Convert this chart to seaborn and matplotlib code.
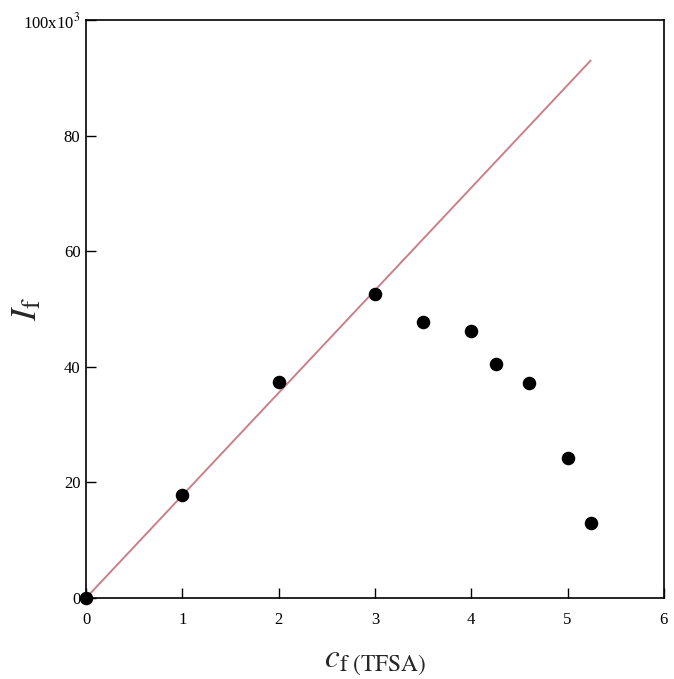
import matplotlib
matplotlib.use("Agg")
import matplotlib.pyplot as plt
import seaborn as sns
import numpy as np
import pandas as pd
from matplotlib.ticker import FixedLocator

# Measured fluorescence intensity vs. TFSA concentration
conc = [0.0, 1.0, 2.0, 3.0, 3.5, 4.0, 4.26, 4.6, 5.0, 5.24]
intensity = [0.0, 17.8, 37.4, 52.6, 47.8, 46.2, 40.5, 37.2, 24.3, 12.9]

# Linear fit through the low-concentration region
fit_x = [0.0, 5.24]
fit_y = [0.0, 93.0]

x_ticks = [0, 1, 2, 3, 4, 5, 6]
y_ticks = [0, 20, 40, 60, 80, 100]
y_tick_labels = ["0", "20", "40", "60", "80", "100x10$^{3}$"]

sns.set_theme(style="white")
plt.rcParams["font.family"] = ["Liberation Serif", "DejaVu Serif"]
plt.rcParams["mathtext.fontset"] = "stix"

fig = plt.figure(figsize=(6.74, 6.79), dpi=100)
ax = fig.add_axes([0.1276, 0.1193, 0.8574, 0.8512])

df = pd.DataFrame({"c": conc, "I": intensity})
fit = pd.DataFrame({"c": fit_x, "I": fit_y})

sns.lineplot(data=fit, x="c", y="I", ax=ax, color="#c9808a", linewidth=1.4, zorder=2)
sns.scatterplot(data=df, x="c", y="I", ax=ax, color="black", s=95,
                edgecolor="black", linewidth=0, zorder=3, clip_on=False)

ax.set_xlim(0, 6)
ax.set_ylim(0, 100)
ax.xaxis.set_major_locator(FixedLocator(x_ticks))
ax.yaxis.set_major_locator(FixedLocator(y_ticks))
ax.set_xticklabels([str(t) for t in x_ticks])
ax.set_yticklabels(y_tick_labels)

for side in ["left", "right", "top", "bottom"]:
    ax.spines[side].set_visible(True)
    ax.spines[side].set_color("black")
    ax.spines[side].set_linewidth(1.2)

ax.tick_params(axis="both", direction="in", length=7, width=1, colors="black",
               labelsize=12, bottom=True, left=True, top=False, right=False)
ax.tick_params(axis="x", pad=10)
ax.tick_params(axis="y", pad=4)

ax.set_xlabel(r"$c$$_{\mathrm{f\ (TFSA)}}$", fontsize=24)
ax.set_ylabel(r"$I$$_{\mathrm{f}}$", fontsize=26)
ax.xaxis.set_label_coords(0.5, -0.085)
ax.yaxis.set_label_coords(-0.072, 0.5)

fig.savefig("out.png", dpi=100, facecolor="white")
